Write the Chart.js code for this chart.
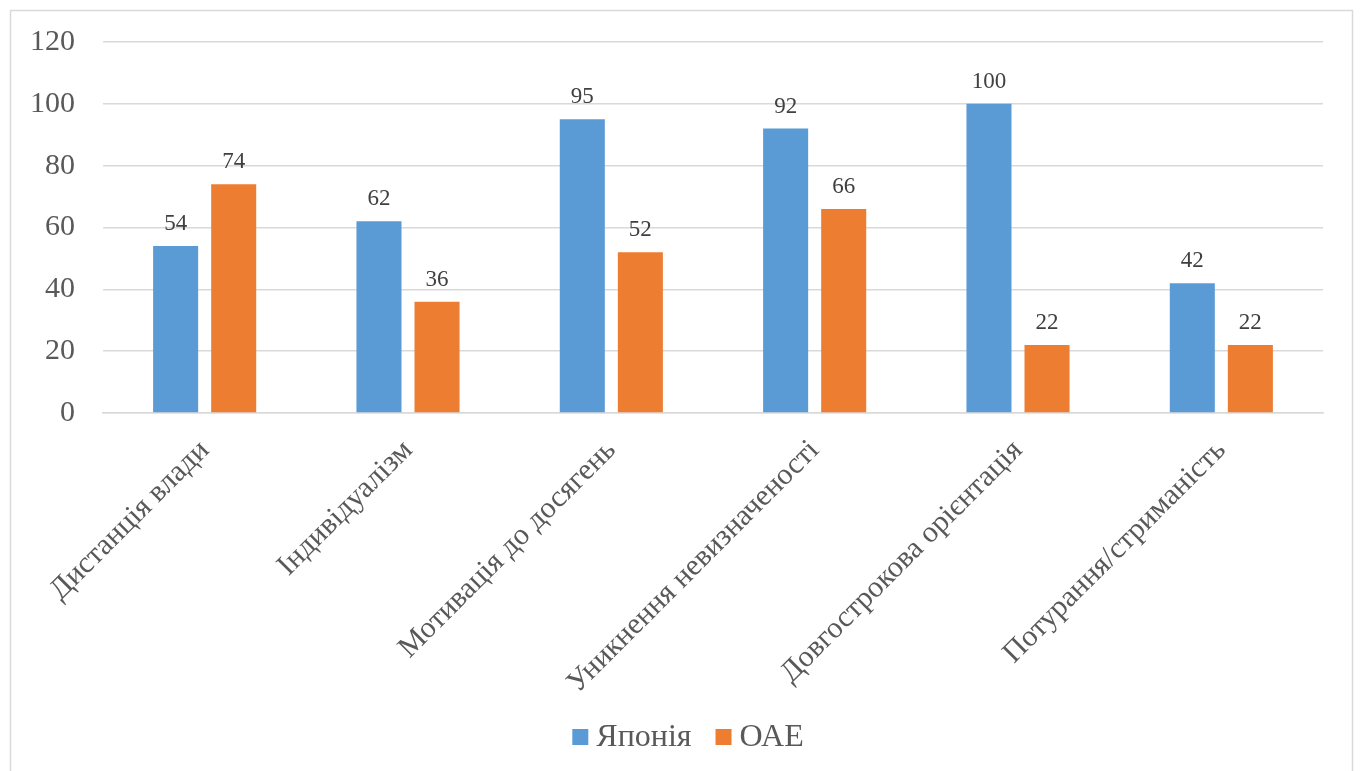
<!DOCTYPE html>
<html>
<head>
<meta charset="utf-8">
<script src="https://cdn.jsdelivr.net/npm/chart.js@4/dist/chart.umd.min.js"></script>
<style>
html,body{margin:0;padding:0;background:#fff;}
#wrap{position:relative;width:1360px;height:771px;}
</style>
</head>
<body>
<div id="wrap"><canvas id="c" width="1360" height="771"></canvas></div>
<script>
const categories = ["Дистанція влади","Індивідуалізм","Мотивація до досягень","Уникнення невизначеності","Довгострокова орієнтація","Потурання/стриманість"];
const seriesNames = ["Японія","ОАЕ"];
const japan = [54, 62, 95, 92, 100, 42];
const uae = [74, 36, 52, 66, 22, 22];
const yTicks = [0, 20, 40, 60, 80, 100, 120];

const FONT = "'Liberation Serif', 'Times New Roman', serif";

const borderPlugin = {
  id: 'outerBorder',
  beforeDraw(chart) {
    const ctx = chart.ctx;
    ctx.save();
    ctx.fillStyle = '#fff';
    ctx.fillRect(0, 0, chart.width, chart.height);
    ctx.strokeStyle = '#d9d9d9';
    ctx.lineWidth = 1.5;
    ctx.strokeRect(10.5, 10.5, 1342, 800);
    ctx.restore();
  }
};

const labelPlugin = {
  id: 'valueLabels',
  afterDatasetsDraw(chart) {
    const ctx = chart.ctx;
    ctx.save();
    ctx.font = "23px " + FONT;
    ctx.fillStyle = '#404040';
    ctx.textAlign = 'center';
    ctx.textBaseline = 'alphabetic';
    chart.data.datasets.forEach((ds, i) => {
      const meta = chart.getDatasetMeta(i);
      meta.data.forEach((bar, j) => {
        ctx.fillText(String(ds.data[j]), bar.x, bar.y - 16);
      });
    });
    ctx.restore();
  }
};

const legendPlugin = {
  id: 'customLegend',
  afterDraw(chart) {
    const ctx = chart.ctx;
    ctx.save();
    ctx.font = "32px " + FONT;
    ctx.textBaseline = 'middle';
    ctx.textAlign = 'left';
    const box = 16, gapText = 8, gapItem = 24;
    const items = chart.data.datasets.map(ds => ({ label: ds.label, color: ds.backgroundColor, w: ctx.measureText(ds.label).width }));
    let total = 0;
    items.forEach((it, i) => { total += box + gapText + it.w + (i < items.length - 1 ? gapItem : 0); });
    let x = 688 - total / 2;
    const cy = 737;
    items.forEach(it => {
      ctx.fillStyle = it.color;
      ctx.fillRect(x, cy - box / 2, box, box);
      x += box + gapText;
      ctx.fillStyle = '#595959';
      ctx.fillText(it.label, x, cy + 1);
      x += it.w + gapItem;
    });
    ctx.restore();
  }
};

new Chart(document.getElementById('c'), {
  type: 'bar',
  data: {
    labels: categories,
    datasets: [
      { label: seriesNames[0], data: japan, backgroundColor: '#5B9BD5', borderWidth: 0 },
      { label: seriesNames[1], data: uae, backgroundColor: '#ED7D31', borderWidth: 0 }
    ]
  },
  options: {
    responsive: false,
    animation: false,
    events: [],
    layout: { padding: { left: 0, right: 37, top: 42, bottom: 0 } },
    datasets: { bar: { categoryPercentage: 0.571, barPercentage: 0.776 } },
    plugins: {
      legend: { display: false },
      tooltip: { enabled: false }
    },
    scales: {
      x: {
        grid: { display: false, drawTicks: false },
        border: { display: true, color: '#d9d9d9', width: 1.5 },
        ticks: {
          font: { family: FONT, size: 30 },
          color: '#595959',
          maxRotation: 45,
          minRotation: 45,
          padding: 20,
          autoSkip: false
        },
        afterFit(scale) { scale.height = 358; scale.paddingLeft = 0; scale.paddingRight = 0; }
      },
      y: {
        min: 0,
        max: 120,
        afterBuildTicks(scale) { scale.ticks = yTicks.map(v => ({ value: v })); },
        grid: { color: '#d9d9d9', lineWidth: 1.5, drawTicks: false },
        border: { display: false },
        ticks: {
          font: { family: FONT, size: 30 },
          color: '#595959',
          padding: 28
        },
        afterFit(scale) { scale.width = 103; scale.paddingTop = 0; scale.paddingBottom = 0; }
      }
    }
  },
  plugins: [borderPlugin, labelPlugin, legendPlugin]
});
</script>
</body>
</html>
